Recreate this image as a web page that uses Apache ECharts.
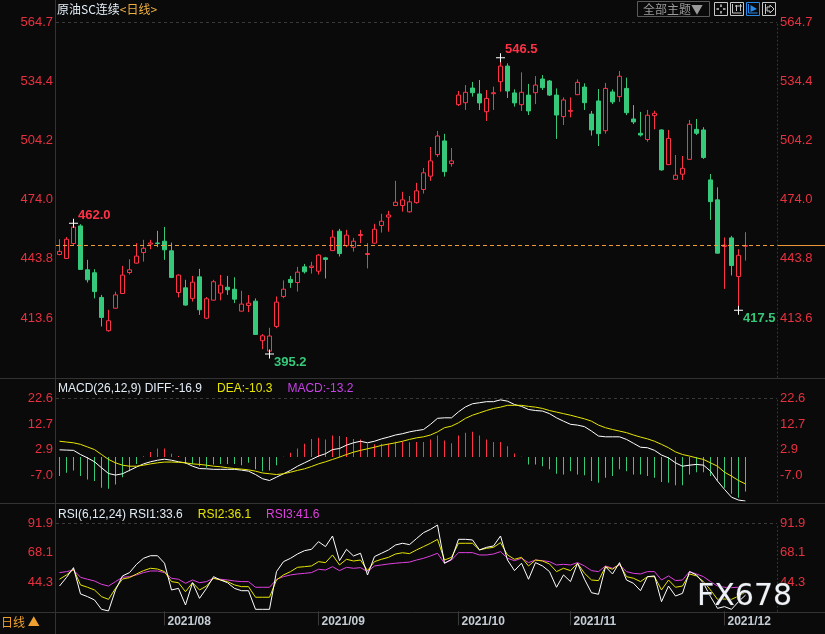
<!DOCTYPE html>
<html><head><meta charset="utf-8">
<script src="https://cdn.jsdelivr.net/npm/echarts@6/dist/echarts.min.js"></script>
<style>html,body{margin:0;padding:0;background:#0a0a0a;}#c{width:825px;height:634px;}</style>
</head><body><div id="c"></div>
<script>
const dates = [
'2021-07-12','2021-07-13','2021-07-14','2021-07-15','2021-07-16','2021-07-19','2021-07-20','2021-07-21','2021-07-22','2021-07-23','2021-07-26','2021-07-27','2021-07-28','2021-07-29','2021-07-30',
'2021-08-02','2021-08-03','2021-08-04','2021-08-05','2021-08-06','2021-08-09','2021-08-10','2021-08-11','2021-08-12','2021-08-13','2021-08-16','2021-08-17','2021-08-18','2021-08-19','2021-08-20','2021-08-23','2021-08-24','2021-08-25','2021-08-26','2021-08-27','2021-08-30','2021-08-31',
'2021-09-01','2021-09-02','2021-09-03','2021-09-06','2021-09-07','2021-09-08','2021-09-09','2021-09-10','2021-09-13','2021-09-14','2021-09-15','2021-09-16','2021-09-17','2021-09-22','2021-09-23','2021-09-24','2021-09-27','2021-09-28','2021-09-29','2021-09-30',
'2021-10-08','2021-10-11','2021-10-12','2021-10-13','2021-10-14','2021-10-15','2021-10-18','2021-10-19','2021-10-20','2021-10-21','2021-10-22','2021-10-25','2021-10-26','2021-10-27','2021-10-28','2021-10-29',
'2021-11-01','2021-11-02','2021-11-03','2021-11-04','2021-11-05','2021-11-08','2021-11-09','2021-11-10','2021-11-11','2021-11-12','2021-11-15','2021-11-16','2021-11-17','2021-11-18','2021-11-19','2021-11-22','2021-11-23','2021-11-24','2021-11-25','2021-11-26','2021-11-29','2021-11-30',
'2021-12-01','2021-12-02','2021-12-03','2021-12-06'];

const opens = [446.0,444.0,451.6,460.6,438.2,436.7,424.1,407.1,418.6,426.1,436.8,441.6,447.0,451.3,451.9,
452.8,447.9,426.6,429.0,423.6,434.6,413.5,422.7,426.3,429.3,428.3,417.1,420.0,422.2,402.0,396.7,409.3,424.6,433.3,431.7,439.7,439.4,
437.5,444.3,448.0,457.9,450.6,449.7,455.7,446.0,451.8,460.8,465.1,471.0,471.0,467.8,472.5,479.2,486.0,497.0,504.0,492.4,
522.5,523.5,531.0,528.0,518.9,528.1,534.2,542.2,528.5,522.5,527.4,528.6,535.6,534.6,527.4,516.4,
519.1,527.6,531.5,517.7,524.4,509.2,529.0,526.6,530.8,515.2,507.9,504.7,516.9,509.6,491.9,484.4,487.0,494.6,509.9,509.6,484.1,473.9,
450.1,454.5,434.8,450.2];
const closes = [447.6,453.8,460.0,438.4,433.1,427.1,413.9,412.2,425.4,435.5,438.2,445.2,449.2,451.9,451.6,
448.4,434.3,435.5,420.2,431.9,417.8,423.4,432.1,430.4,428.0,423.2,420.7,421.2,405.2,404.5,404.4,421.7,428.3,431.7,437.0,437.2,440.1,
445.7,443.5,454.9,446.5,455.9,452.8,456.2,446.5,458.9,463.0,466.2,472.7,473.9,472.9,478.5,487.7,493.8,506.5,488.3,493.8,
527.4,528.8,528.6,523.4,525.7,528.6,542.2,529.5,523.4,528.8,519.3,532.5,531.2,527.4,517.2,524.9,
519.6,533.9,523.5,509.6,507.7,530.8,523.9,537.0,518.4,513.7,507.0,517.1,518.1,489.2,505.3,486.5,490.0,512.5,507.9,495.5,473.0,446.7,
450.8,440.4,445.6,450.6];
const lows = [445.6,443.8,450.8,438.2,431.7,423.6,409.3,406.6,418.4,426.0,435.8,441.4,442.4,448.7,449.8,
443.3,434.0,424.1,419.9,422.0,415.2,413.0,422.5,422.6,425.4,421.2,417.0,416.6,405.0,397.7,395.2,408.4,423.7,429.0,427.1,436.3,436.3,
435.8,433.8,447.9,445.0,449.7,447.5,451.8,438.9,451.6,457.2,457.7,470.8,467.9,467.4,472.0,477.1,483.6,495.8,485.8,490.9,
521.8,519.8,526.6,519.8,514.2,519.8,529.1,525.9,521.5,519.3,517.2,522.8,530.0,526.9,505.0,512.1,
516.0,527.4,519.8,506.7,501.4,507.7,522.8,523.9,517.2,512.6,506.2,503.6,509.9,488.8,491.7,484.4,484.1,494.4,507.0,494.8,463.7,446.5,
428.5,435.3,417.5,442.9];
const highs = [453.8,454.9,462.0,461.5,443.3,438.5,425.4,417.8,427.0,440.2,443.6,451.8,453.5,453.5,458.1,
460.1,452.1,435.9,433.1,435.1,438.7,424.3,433.1,435.6,435.1,434.4,427.5,425.3,423.6,405.4,408.6,424.6,432.8,435.1,439.7,441.2,442.3,
446.2,444.8,458.6,459.1,458.6,454.5,458.6,451.8,461.7,466.8,468.3,483.6,478.0,475.9,482.6,490.2,500.9,509.1,507.6,500.4,
529.5,532.5,534.1,535.1,530.0,531.7,546.5,543.6,530.3,539.0,533.1,537.1,537.6,535.1,530.8,526.2,
526.2,535.4,533.4,519.3,530.5,533.6,530.3,539.7,536.3,522.3,518.8,519.8,519.4,509.9,509.6,496.8,496.3,514.7,515.2,511.0,487.1,480.3,
454.7,455.5,448.7,457.4];

const macdDiff = [2.8,2.7,2.6,1.0,-0.3,-1.8,-4.1,-6.3,-6.9,-6.4,-5.1,-3.8,-2.6,-1.8,-1.2,
-0.8,-1.2,-1.8,-2.2,-3.5,-4.4,-4.5,-4.7,-4.7,-4.7,-4.7,-5.0,-5.4,-6.7,-8.3,-9.0,-7.7,-6.4,-5.1,-3.5,-2.2,-0.9,
0.4,1.3,2.9,3.3,4.6,5.5,6.1,5.5,6.1,7.0,7.7,8.5,9.0,9.7,10.2,10.6,12.6,14.9,15.1,15.1,
17.4,19.3,20.5,20.9,21.3,21.3,22.0,21.5,20.2,19.5,18.3,17.9,17.7,16.7,15.1,13.8,
12.6,12.3,11.7,10.0,8.1,7.8,7.8,7.8,6.8,5.3,3.8,3.6,2.6,0.8,-0.3,-2.2,-3.5,-3.1,-2.8,-3.1,-5.4,-9.2,
-12.4,-15.4,-16.5,-16.9];
const macdDea = [6.1,5.8,5.5,4.9,3.9,2.9,1.0,-0.9,-2.2,-3.1,-3.5,-3.5,-3.1,-2.6,-2.2,
-1.9,-1.9,-2.0,-2.2,-2.6,-2.8,-3.1,-3.5,-3.7,-4.1,-4.4,-4.6,-4.9,-5.4,-6.1,-6.4,-6.7,-6.4,-5.8,-5.1,-4.5,-3.6,
-2.6,-1.8,-0.9,0.0,1.0,1.9,2.6,3.2,3.8,4.5,5.0,5.5,6.1,6.8,7.4,7.8,8.5,9.7,11.3,11.9,
13.2,14.9,16.1,17.0,17.9,18.7,19.2,19.9,19.9,19.9,19.5,19.2,18.7,17.9,17.3,16.7,
16.1,15.4,14.7,13.8,12.3,11.3,10.6,10.0,9.4,8.5,7.7,7.0,6.1,4.9,3.6,2.0,1.0,0.4,-0.3,-0.9,-2.2,-3.5,
-5.8,-7.3,-9.0,-10.3];
const macdHist = [-7.3,-6.0,-5.1,-7.3,-8.6,-9.2,-11.8,-12.2,-10.5,-7.7,-5.4,-2.6,0.3,2.0,3.3,
3.3,1.3,0.4,-2.6,-2.6,-3.5,-4.1,-2.8,-2.6,-2.6,-2.6,-3.1,-2.2,-4.7,-5.4,-5.1,-3.1,0.1,1.7,3.3,5.1,7.0,
7.4,6.8,8.3,8.1,7.7,7.0,6.8,5.1,4.9,5.1,5.1,5.9,6.0,5.7,5.8,5.8,6.8,8.3,6.4,5.3,
8.3,9.4,9.7,8.3,6.8,5.8,5.8,4.2,1.4,0.1,-2.8,-2.8,-3.5,-4.7,-6.4,-6.7,
-5.4,-6.7,-7.0,-9.2,-9.9,-7.9,-7.3,-4.7,-5.4,-6.7,-6.7,-7.3,-7.9,-9.6,-9.9,-10.8,-10.8,-6.7,-5.8,-5.8,-7.3,-9.0,
-11.8,-14.1,-15.6,-13.2];

const rsi1 = [41.0,48.0,55.9,34.6,32.4,29.7,22.1,20.8,37.8,49.2,51.9,58.6,63.5,65.6,65.6,
59.5,37.8,39.1,25.6,43.7,31.0,39.1,48.6,45.9,43.7,39.1,37.2,37.2,22.1,22.1,22.1,52.7,60.8,63.5,67.0,69.7,70.8,
77.0,73.0,81.6,61.6,70.8,65.4,67.6,50.0,64.9,67.6,70.3,74.3,75.7,74.6,79.5,84.3,87.0,90.5,59.5,62.7,
78.9,78.9,78.4,70.3,72.4,73.5,81.6,62.1,53.5,59.5,46.5,60.0,57.3,52.7,40.0,50.0,
44.6,59.5,46.5,35.6,34.3,56.7,50.8,60.0,45.9,43.2,37.2,48.6,49.2,28.3,41.0,32.9,35.1,52.7,50.0,43.2,32.4,22.9,
24.3,22.1,28.3,33.6];
const rsi2 = [46.5,50.0,54.6,41.9,40.0,37.8,32.4,30.2,39.1,46.7,47.8,50.8,53.5,55.4,54.8,
52.7,44.6,43.7,36.4,43.7,37.8,41.0,47.3,45.9,44.6,41.9,40.5,40.5,31.9,31.9,31.9,45.9,50.0,52.7,56.2,56.7,57.3,
60.8,60.0,66.2,58.1,62.7,61.3,62.1,53.5,60.8,62.7,64.3,67.0,68.0,67.3,70.3,73.0,75.7,78.9,62.1,64.3,
75.7,75.7,75.7,70.3,71.6,72.4,76.2,66.2,62.7,64.3,57.3,62.1,61.3,58.9,52.7,55.4,
53.5,59.5,51.3,45.9,45.4,56.7,54.6,58.9,48.6,47.3,44.6,48.6,48.6,37.8,45.9,40.0,41.0,50.8,49.2,44.6,37.8,30.2,
30.5,30.2,32.9,36.1];
const rsi3 = [51.9,52.7,54.0,48.1,46.5,45.1,42.4,41.0,44.6,48.1,48.6,50.0,51.9,53.2,53.2,
51.9,47.3,46.5,43.2,45.9,43.7,44.6,47.3,46.5,45.9,45.1,44.6,44.6,40.0,40.0,40.0,46.5,48.6,50.0,50.8,51.3,51.9,
54.6,54.0,56.7,53.5,56.2,55.4,55.9,52.7,57.3,58.1,58.9,59.5,60.0,60.4,62.1,63.5,65.4,67.6,59.5,62.1,
68.1,68.1,68.1,66.2,66.2,67.0,68.9,63.5,61.6,63.5,60.0,62.1,61.6,60.8,58.1,58.6,
58.1,60.0,57.3,53.5,52.7,57.3,55.4,58.1,52.7,51.3,50.8,52.7,52.7,45.9,49.2,45.4,45.9,52.7,50.8,48.6,44.6,41.0,
40.0,39.7,40.0,41.6];

const priceTicks = [413.6, 443.8, 474.0, 504.2, 534.4, 564.7];
const macdTicks = [-7.0, 2.9, 12.7, 22.6];
const rsiTicks = [44.3, 68.1, 91.9];
const extremes = [
  {date:'2021-07-14', value:462.0, kind:'high'},
  {date:'2021-08-23', value:395.2, kind:'low'},
  {date:'2021-10-18', value:546.5, kind:'high'},
  {date:'2021-12-03', value:417.5, kind:'low'}
];

const RED = '#ff3246', GREEN = '#36c97b', LBL = '#e8303f', ORANGE = '#ee9a3a';
const YEL = '#e6e600', MAG = '#e040e0', BG = '#0a0a0a', LINE = '#333';
const FONT = "'Liberation Sans','Noto Sans CJK SC',sans-serif";

const axisDates = dates.concat(['', '', '', '']);
const candleData = opens.map((o, i) => [o, closes[i], lows[i], highs[i]]);
const last = a => a[a.length - 1];

function axisRange(ticks) {
  const step = (ticks[ticks.length - 1] - ticks[0]) / (ticks.length - 1);
  return {min: ticks[0] - step, max: ticks[ticks.length - 1], interval: step};
}
function fmt(ticks) {
  return v => { const t = ticks.find(t => Math.abs(t - v) < 0.3); return t === undefined ? '' : t.toFixed(1); };
}
const isMonthStart = idx => idx > 0 && idx < dates.length && dates[idx].slice(0, 7) !== dates[idx - 1].slice(0, 7);

const grids = [
  {left: 56, right: 48, top: 22, height: 355.2},
  {left: 56, right: 48, top: 398.3, height: 102.7},
  {left: 56, right: 48, top: 523.3, height: 88}
];

function xAx(g) {
  const base = {type: 'category', gridIndex: g, data: axisDates, boundaryGap: true,
    axisLine: {show: false}, axisTick: {show: false}, axisLabel: {show: false}, splitLine: {show: false}};
  if (g === 2) {
    base.axisTick = {show: true, alignWithLabel: true, length: 14, interval: (i) => isMonthStart(i), lineStyle: {color: '#3a3a3a'}};
    base.axisLabel = {show: true, interval: (i) => isMonthStart(i), formatter: v => v ? v.slice(0, 7).replace('-', '/') : '',
      color: '#c4ccd4', fontWeight: 'bold', fontSize: 12, fontFamily: FONT, align: 'left', margin: 4, padding: [0, 0, 0, 3]};
  }
  return base;
}
function yAx(g, ticks, pos) {
  const r = axisRange(ticks);
  return {type: 'value', gridIndex: g, position: pos, min: r.min, max: r.max, interval: r.interval, scale: true,
    axisLine: {show: pos === 'right', lineStyle: {color: '#3a3a3a', type: [1, 3]}},
    axisTick: {show: false}, splitLine: {show: false},
    axisLabel: {color: LBL, fontSize: 13, fontFamily: FONT, margin: 3, formatter: fmt(ticks)}};
}
const topLine = v => ({yAxis: v, lineStyle: {color: '#3a3a3a', type: [3, 3], width: 1}});

const plus = 'path://M0,4h9v1h-9z M4,0h1v9h-1z';

const graphics = [
  {id: 'vl', type: 'line', shape: {x1: 55.5, y1: 0, x2: 55.5, y2: 634}, style: {stroke: LINE, lineWidth: 1}},
  {id: 's1', type: 'line', shape: {x1: 0, y1: 378.5, x2: 825, y2: 378.5}, style: {stroke: LINE, lineWidth: 1}},
  {id: 's2', type: 'line', shape: {x1: 0, y1: 503.5, x2: 825, y2: 503.5}, style: {stroke: LINE, lineWidth: 1}},
  {id: 's3', type: 'line', shape: {x1: 0, y1: 612.5, x2: 825, y2: 612.5}, style: {stroke: LINE, lineWidth: 1}},
  {id: 'dx', type: 'text', x: 1, y: 622, style: {text: '日线 ▲', fill: '#f0a030', font: "12px 'Noto Sans CJK SC'", verticalAlign: 'middle'}},
  {id: 'wm', type: 'text', x: 697, y: 597.5, z: 100, style: {text: 'FX678', fill: '#eef2f6', stroke: '#2a2a2a', lineWidth: 1, font: "30px 'DejaVu Sans'", verticalAlign: 'middle'}},
  {id: 'tb', type: 'rect', shape: {x: 637.5, y: 1.5, width: 72, height: 15}, style: {fill: 'none', stroke: '#5a5a5a', lineWidth: 1}},
  {id: 'tt', type: 'text', x: 643, y: 9.5, style: {text: '全部主题▼', fill: '#9a9a9a', font: "12px 'Noto Sans CJK SC'", verticalAlign: 'middle'}},
  {id: 'b1', type: 'rect', shape: {x: 714.5, y: 2.5, width: 13, height: 13}, style: {fill: 'none', stroke: '#c8c8c8', lineWidth: 1}},
  {id: 'b1a', type: 'polyline', shape: {points: [[716.5, 9], [719, 9]]}, style: {stroke: '#c8c8c8', lineWidth: 1.5}},
  {id: 'b1b', type: 'polyline', shape: {points: [[723, 9], [725.5, 9]]}, style: {stroke: '#c8c8c8', lineWidth: 1.5}},
  {id: 'b1c', type: 'polyline', shape: {points: [[721, 4.5], [721, 7]]}, style: {stroke: '#c8c8c8', lineWidth: 1.5}},
  {id: 'b1d', type: 'polyline', shape: {points: [[721, 11], [721, 13.5]]}, style: {stroke: '#c8c8c8', lineWidth: 1.5}},
  {id: 'b2', type: 'rect', shape: {x: 730.5, y: 2.5, width: 13, height: 13}, style: {fill: 'none', stroke: '#c8c8c8', lineWidth: 1}},
  {id: 'b2a', type: 'polyline', shape: {points: [[732.5, 4], [732.5, 13], [741.5, 13]]}, style: {stroke: '#c8c8c8', lineWidth: 1}},
  {id: 'b2b', type: 'polyline', shape: {points: [[736.5, 5], [736.5, 11]]}, style: {stroke: '#c8c8c8', lineWidth: 1}},
  {id: 'b2c', type: 'polyline', shape: {points: [[740.5, 4], [740.5, 11]]}, style: {stroke: '#c8c8c8', lineWidth: 1}},
  {id: 'b2d', type: 'polyline', shape: {points: [[735, 6], [742, 6]]}, style: {stroke: '#c8c8c8', lineWidth: 1}},
  {id: 'b3', type: 'rect', shape: {x: 746.5, y: 2.5, width: 13, height: 13}, style: {fill: 'none', stroke: '#2a8ae8', lineWidth: 1}},
  {id: 'b3a', type: 'polyline', shape: {points: [[748.5, 4], [748.5, 13], [757.5, 13]]}, style: {stroke: '#2a8ae8', lineWidth: 1}},
  {id: 'b3b', type: 'polygon', shape: {points: [[750.5, 5], [757, 9], [750.5, 12]]}, style: {fill: '#2a8ae8'}},
  {id: 'b4', type: 'rect', shape: {x: 762.5, y: 2.5, width: 13, height: 13}, style: {fill: 'none', stroke: '#c8c8c8', lineWidth: 1}},
  {id: 'b4a', type: 'polyline', shape: {points: [[765.5, 4], [765.5, 14]]}, style: {stroke: '#c8c8c8', lineWidth: 1}},
  {id: 'b4b', type: 'polygon', shape: {points: [[767, 7], [770, 7], [770, 5], [774, 9], [770, 13], [770, 11], [767, 11]]}, style: {fill: 'none', stroke: '#c8c8c8', lineWidth: 1}}
];

const rn = (color) => ({color: color, fontSize: 12, fontWeight: 'normal'});
const option = {
  backgroundColor: BG,
  animation: false,
  textStyle: {fontFamily: FONT},
  title: [
    {left: 57, top: 3, padding: 0, text: '{w|原油SC连续}{o|<日线>}',
      textStyle: {fontWeight: 'normal', rich: {w: Object.assign(rn('#e4eef8'), {fontFamily: "'Noto Sans CJK SC'"}), o: Object.assign(rn('#f0b040'), {fontFamily: "'Noto Sans CJK SC'"})}}},
    {left: 58, top: 380, padding: 0,
      text: '{w|MACD(26,12,9) DIFF:' + last(macdDiff).toFixed(1) + '}   {y|DEA:' + last(macdDea).toFixed(1) + '}   {m|MACD:' + last(macdHist).toFixed(1) + '}',
      textStyle: {fontWeight: 'normal', rich: {w: rn('#e2ecf6'), y: rn(YEL), m: rn('#c840e8')}}},
    {left: 58, top: 506, padding: 0,
      text: '{w|RSI(6,12,24) RSI1:' + last(rsi1).toFixed(1) + '}   {y|RSI2:' + last(rsi2).toFixed(1) + '}   {m|RSI3:' + last(rsi3).toFixed(1) + '}',
      textStyle: {fontWeight: 'normal', rich: {w: rn('#e2ecf6'), y: rn(YEL), m: rn(MAG)}}}
  ],
  grid: grids,
  xAxis: [xAx(0), xAx(1), xAx(2)],
  yAxis: [yAx(0, priceTicks, 'left'), yAx(0, priceTicks, 'right'), yAx(1, macdTicks, 'left'), yAx(1, macdTicks, 'right'), yAx(2, rsiTicks, 'left'), yAx(2, rsiTicks, 'right')],
  series: [
    {type: 'candlestick', xAxisIndex: 0, yAxisIndex: 0, data: candleData, barWidth: 5,
      itemStyle: {color: BG, borderColor: RED, color0: GREEN, borderColor0: GREEN, borderWidth: 1},
      markLine: {silent: true, symbol: ['none', 'none'], label: {show: false},
        data: [topLine(last(priceTicks)), {yAxis: last(closes), lineStyle: {color: ORANGE, type: [4, 3], width: 1}}]},
      markPoint: {symbol: plus, symbolSize: 9, itemStyle: {color: '#ffffff'},
        label: {show: true, position: 'right', distance: 0, fontSize: 13, fontWeight: 'bold', fontFamily: FONT, formatter: p => Number(p.value).toFixed(1)},
        data: extremes.map(m => ({coord: [m.date, m.value], value: m.value,
          label: {color: m.kind === 'high' ? RED : GREEN, offset: m.kind === 'high' ? [0, -8] : [0, 8]}}))}},
    {type: 'bar', xAxisIndex: 1, yAxisIndex: 2, data: macdHist, barWidth: 1,
      itemStyle: {color: p => p.value >= 0 ? RED : GREEN},
      markLine: {silent: true, symbol: ['none', 'none'], label: {show: false}, data: [topLine(last(macdTicks))]}},
    {type: 'line', xAxisIndex: 1, yAxisIndex: 2, data: macdDiff, showSymbol: false, lineStyle: {color: '#ffffff', width: 1}},
    {type: 'line', xAxisIndex: 1, yAxisIndex: 2, data: macdDea, showSymbol: false, lineStyle: {color: YEL, width: 1}},
    {type: 'line', xAxisIndex: 2, yAxisIndex: 4, data: rsi3, showSymbol: false, lineStyle: {color: MAG, width: 1},
      markLine: {silent: true, symbol: ['none', 'none'], label: {show: false}, data: [topLine(last(rsiTicks))]}},
    {type: 'line', xAxisIndex: 2, yAxisIndex: 4, data: rsi2, showSymbol: false, lineStyle: {color: YEL, width: 1}},
    {type: 'line', xAxisIndex: 2, yAxisIndex: 4, data: rsi1, showSymbol: false, lineStyle: {color: '#ffffff', width: 1}}
  ],
  graphic: {elements: graphics}
};

const chart = echarts.init(document.getElementById('c'), null, {renderer: 'canvas'});
chart.setOption(option);
const yLast = chart.convertToPixel({yAxisIndex: 0}, last(closes));
const rightEdge = chart.convertToPixel({xAxisIndex: 0}, axisDates.length - 1) + 3.5;
chart.setOption({graphic: {elements: graphics.concat([
  {id: 'lp', type: 'line', shape: {x1: rightEdge, y1: yLast, x2: 825, y2: yLast}, style: {stroke: ORANGE, lineWidth: 1}}
])}});
</script></body></html>
